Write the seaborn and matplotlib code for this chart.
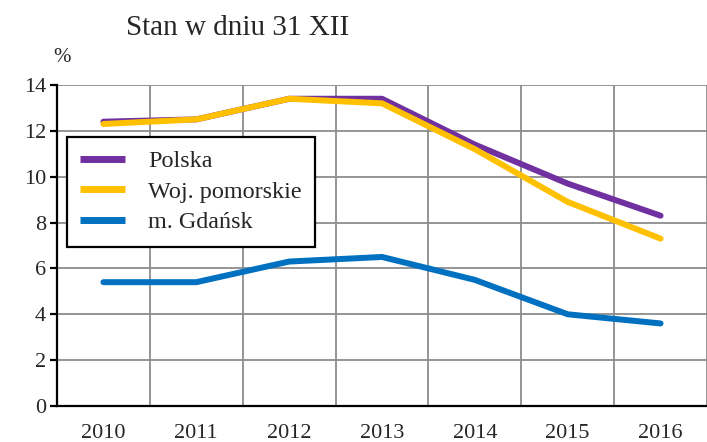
import matplotlib
matplotlib.use("Agg")
import matplotlib.pyplot as plt
import seaborn as sns
import pandas as pd
import numpy as np

years = ["2010", "2011", "2012", "2013", "2014", "2015", "2016"]
polska = [12.4, 12.5, 13.4, 13.4, 11.4, 9.7, 8.3]
pomorskie = [12.3, 12.5, 13.4, 13.2, 11.2, 8.9, 7.3]
gdansk = [5.4, 5.4, 6.3, 6.5, 5.5, 4.0, 3.6]
series_names = ["Polska", "Woj. pomorskie", "m. Gdańsk"]
colors = ["#7030A0", "#FFC000", "#0070C0"]
y_ticks = [0, 2, 4, 6, 8, 10, 12, 14]

sns.set_style("white")
plt.rcParams["font.family"] = ["Liberation Serif", "DejaVu Serif"]

rows = []
for name, vals in zip(series_names, [polska, pomorskie, gdansk]):
    for i, (y, v) in enumerate(zip(years, vals)):
        rows.append({"idx": i, "year": y, "value": v, "series": name})
df = pd.DataFrame(rows)

W, H = 707, 442
fig = plt.figure(figsize=(W / 100, H / 100), dpi=100)
ax = fig.add_axes([57 / W, 1 - 406 / H, 1 - 57 / W, (406 - 85) / H])

sns.lineplot(data=df, x="idx", y="value", hue="series", hue_order=series_names,
             palette=colors, linewidth=4.3, ax=ax, legend=True, zorder=3,
             solid_capstyle="round")

span = (W - 57) / 93.5
ax.set_xlim(-0.5, -0.5 + span)
ax.set_ylim(0, 14)
ax.set_xticks(range(len(years)))
ax.set_xticklabels(years)
ax.set_xticks(np.arange(0.5, len(years), 1.0), minor=True)
ax.set_yticks(y_ticks)
ax.set_yticklabels([str(t) for t in y_ticks])
ax.set_xlabel("")
ax.set_ylabel("")

ax.grid(False)
ax.yaxis.grid(True, color="#8c8c8c", linewidth=1.3, zorder=0)
ax.xaxis.grid(True, which="minor", color="#8c8c8c", linewidth=1.3, zorder=0)
ax.set_axisbelow(True)

for s in ["top", "right"]:
    ax.spines[s].set_visible(False)
for s in ["left", "bottom"]:
    ax.spines[s].set_color("black")
    ax.spines[s].set_linewidth(1.6)
    ax.spines[s].set_zorder(4)

ax.tick_params(axis="y", which="major", left=True, length=5, width=1.6,
               color="black", labelsize=16, pad=3)
ax.tick_params(axis="x", which="both", bottom=False, labelsize=16, pad=9.5)

ax.legend_.remove()
leg = fig.legend(handles=ax.get_lines()[:3], labels=series_names,
                 loc="upper left", bbox_to_anchor=(67 / W, 1 - 137 / H),
                 frameon=True, fancybox=False, fontsize=17.4, handlelength=1.85,
                 handletextpad=0.95, labelspacing=0.36, borderpad=0.55,
                 borderaxespad=0)
leg.get_frame().set_edgecolor("black")
leg.get_frame().set_linewidth(1.6)
leg.get_frame().set_facecolor("white")
leg.get_frame().set_alpha(1)
for line in leg.get_lines():
    line.set_linewidth(5)
    line.set_solid_capstyle("butt")

fig.text(238 / W, 1 - 28 / H, "Stan w dniu 31 XII", ha="center", va="center",
         fontsize=21)
fig.text(62 / W, 1 - 57 / H, "%", ha="center", va="center", fontsize=15)

fig.savefig("out.png", dpi=100)
